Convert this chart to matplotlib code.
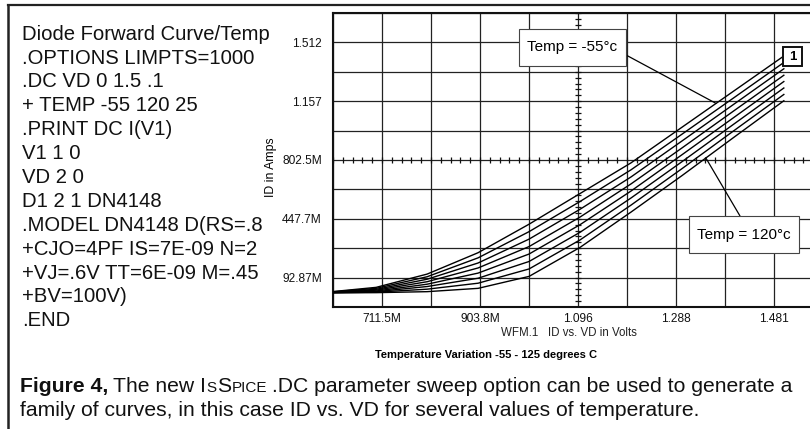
import numpy as np
import matplotlib
matplotlib.use("Agg")
import matplotlib.pyplot as plt
from matplotlib.lines import Line2D
from matplotlib.patches import Rectangle, ConnectionPatch

plt.rcParams['font.family'] = ['Liberation Sans', 'DejaVu Sans']

# ---------------- data ----------------
vd = [0.6, 0.7, 0.8, 0.9, 1.0, 1.1, 1.2, 1.3, 1.4, 1.5]
temps = [-55, -30, -5, 20, 45, 70, 95, 120]
id_m55 = [0.004, 0.034, 0.114, 0.243, 0.415, 0.600, 0.785, 1.000, 1.215, 1.430]
id_m30 = [0.0035, 0.028, 0.098, 0.212, 0.370, 0.552, 0.743, 0.958, 1.174, 1.391]
id_m5 = [0.003, 0.022, 0.083, 0.181, 0.325, 0.505, 0.700, 0.917, 1.135, 1.353]
id_p20 = [0.0025, 0.017, 0.068, 0.151, 0.280, 0.458, 0.658, 0.875, 1.095, 1.314]
id_p45 = [0.002, 0.012, 0.053, 0.120, 0.235, 0.412, 0.615, 0.834, 1.055, 1.276]
id_p70 = [0.0015, 0.008, 0.039, 0.089, 0.190, 0.366, 0.573, 0.792, 1.015, 1.237]
id_p95 = [0.001, 0.005, 0.023, 0.059, 0.145, 0.320, 0.530, 0.750, 0.975, 1.198]
id_p120 = [0.0005, 0.002, 0.008, 0.028, 0.100, 0.275, 0.488, 0.708, 0.935, 1.160]
curves = [id_m55, id_m30, id_m5, id_p20, id_p45, id_p70, id_p95, id_p120]

x_ticks = [0.7115, 0.9038, 1.096, 1.288, 1.481]
x_tick_labels = ["711.5M", "903.8M", "1.096", "1.288", "1.481"]
y_ticks = [0.09287, 0.4477, 0.8025, 1.157, 1.512]
y_tick_labels = ["92.87M", "447.7M", "802.5M", "1.157", "1.512"]

netlist = [
    "Diode Forward Curve/Temp",
    ".OPTIONS LIMPTS=1000",
    ".DC VD 0 1.5 .1",
    "+ TEMP -55 120 25",
    ".PRINT DC I(V1)",
    "V1 1 0",
    "VD 2 0",
    "D1 2 1 DN4148",
    ".MODEL DN4148 D(RS=.8",
    "+CJO=4PF IS=7E-09 N=2",
    "+VJ=.6V TT=6E-09 M=.45",
    "+BV=100V)",
    ".END",
]

# ---------------- figure ----------------
W, H = 810, 429
fig = plt.figure(figsize=(W / 100, H / 100), dpi=100)
fig.patch.set_facecolor('white')


def fx(px):
    return px / W


def fy(py):
    return 1 - py / H


# outer frame (top + left)
fig.add_artist(Line2D([fx(8), fx(810)], [fy(5), fy(5)], color='#222', lw=1.6))
fig.add_artist(Line2D([fx(8), fx(8)], [fy(5), fy(429)], color='#222', lw=1.8))

# plot area
ax_left, ax_top, ax_bot = 333, 13, 307
ax = fig.add_axes([fx(ax_left), fy(ax_bot), 490 / W, (ax_bot - ax_top) / H])
xstep = (x_ticks[1] - x_ticks[0]) / 2
ystep = (y_ticks[1] - y_ticks[0]) / 2
xmin = x_ticks[0] - xstep
ymin = y_ticks[0] - ystep
ax.set_xlim(xmin, xmin + 10 * xstep)
ax.set_ylim(ymin, ymin + 10 * ystep)

xgrid = [xmin + i * xstep for i in range(11)]
ygrid = [ymin + i * ystep for i in range(11)]
xlab = []
for i in range(11):
    xlab.append(x_tick_labels[(i - 1) // 2] if (i % 2 == 1 and (i - 1) // 2 < len(x_tick_labels)) else '')
ylab = []
for i in range(11):
    ylab.append(y_tick_labels[(i - 1) // 2] if (i % 2 == 1 and (i - 1) // 2 < len(y_tick_labels)) else '')
ax.set_xticks(xgrid)
ax.set_xticklabels(xlab)
ax.set_yticks(ygrid)
ax.set_yticklabels(ylab)
ax.tick_params(axis='both', length=0, labelsize=8.6, colors='#111')
ax.tick_params(axis='x', pad=4)
ax.tick_params(axis='y', pad=8)
ax.grid(True, color='#222', lw=0.9)
for s in ['left', 'bottom', 'top']:
    ax.spines[s].set_linewidth(1.5)
    ax.spines[s].set_color('#111')
ax.spines['right'].set_visible(False)

# centre axes with minor ticks
xc = x_ticks[2]
yc = y_ticks[2]
mx = np.arange(xmin, xmin + 10 * xstep + 1e-9, xstep / 5)
my = np.arange(ymin, ymin + 10 * ystep + 1e-9, ystep / 5)
ax.plot(mx, np.full_like(mx, yc), ls='none', marker='|', ms=4.5, mew=0.9, color='#111', zorder=2)
ax.plot(np.full_like(my, xc), my, ls='none', marker='_', ms=5, mew=0.9, color='#111', zorder=2)

for c in curves:
    ax.plot(vd, c, color='black', lw=1.0, zorder=3)


# annotations: boxes in figure pixels, leaders to data points
def label_box(x0, y0, x1, y1, text, fs, weight='normal', ec='#444', lw=0.8):
    fig.add_artist(Rectangle((fx(x0), fy(y1)), (x1 - x0) / W, (y1 - y0) / H,
                             transform=fig.transFigure, fc='white', ec=ec, lw=lw, zorder=6))
    fig.text(fx((x0 + x1) / 2), fy((y0 + y1) / 2), text, ha='center', va='center',
             fontsize=fs, fontweight=weight, zorder=7)


def leader(px, py, xd, yd):
    cp = ConnectionPatch(xyA=(fx(px), fy(py)), coordsA='figure fraction',
                         xyB=(xd, yd), coordsB=ax.transData, color='black', lw=0.9)
    cp.set_zorder(5)
    fig.add_artist(cp)


x55 = 1.367
leader(626, 55, x55, np.interp(x55, vd, id_m55))
x120 = 1.347
leader(740, 216, x120, np.interp(x120, vd, id_p120))
label_box(519, 29, 626, 66, "Temp = -55°c", 11)
label_box(689, 216, 799, 253, "Temp = 120°c", 11)
label_box(783, 47, 802, 66, "1", 9.5, weight='bold', ec='#111', lw=1.4)

# axis texts
fig.text(fx(271), fy(167), "ID in Amps", rotation=90, ha='center', va='center', fontsize=8.8)
fig.text(fx(569), fy(333), "WFM.1   ID vs. VD in Volts", ha='center', va='center', fontsize=8.3,
         color='#222')
fig.text(fx(486), fy(358), "Temperature Variation -55 - 125 degrees C", ha='center',
         va='baseline', fontsize=8, fontweight='bold')

# netlist block
for i, line in enumerate(netlist):
    fig.text(fx(22), fy(39.6 + 23.9 * i), line, ha='left', va='baseline', fontsize=14.6,
             color='#111')

# caption with small caps
renderer = fig.canvas.get_renderer()
cap_fs = 15.2


def seq(x, y, pieces):
    for s, fs, wt, gap in pieces:
        t = fig.text(fx(x), fy(y), s, ha='left', va='baseline', fontsize=fs, fontweight=wt,
                     color='#111')
        bb = t.get_window_extent(renderer)
        x += bb.width + gap


sp = cap_fs * 100 / 72 * 0.24
seq(20, 392, [("Figure 4,", cap_fs, 'bold', sp),
              ("The new", cap_fs, 'normal', sp),
              ("I", cap_fs, 'normal', 0.5),
              ("S", cap_fs * 0.72, 'normal', 0.5),
              ("S", cap_fs, 'normal', 0.5),
              ("PICE", cap_fs * 0.72, 'normal', sp),
              (".DC parameter sweep option can be used to generate a", cap_fs, 'normal', 0)])
seq(20, 416, [("family of curves, in this case ID vs. VD for several values of temperature.",
               cap_fs, 'normal', 0)])

fig.savefig("out.png", dpi=100)
